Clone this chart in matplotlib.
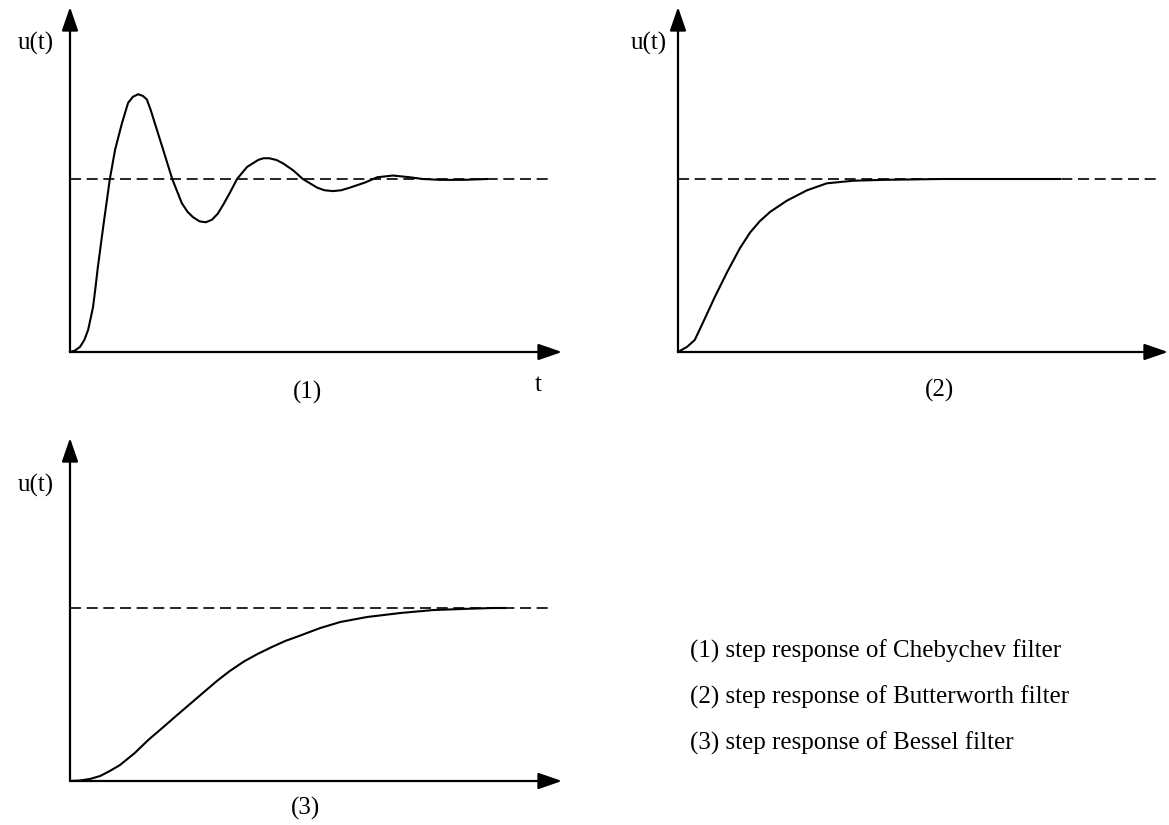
import matplotlib
matplotlib.use("Agg")
import matplotlib.pyplot as plt

plt.rcParams['font.family'] = ['Liberation Serif', 'DejaVu Serif']

# Step responses (t in arbitrary time units, u normalised to the final value 1)
cheby_t = [0, 0.10, 0.21, 0.30, 0.38, 0.48, 0.53, 0.58, 0.69, 0.83, 0.94, 1.08, 1.21,
           1.31, 1.42, 1.52, 1.60, 1.68, 1.77, 1.94, 2.13, 2.33, 2.45, 2.56, 2.70, 2.83,
           2.96, 3.08, 3.20, 3.33, 3.48, 3.69, 3.92, 4.03, 4.15, 4.30, 4.44, 4.65, 4.85,
           5.15, 5.30, 5.48, 5.65, 5.83, 6.15, 6.40, 6.73, 7.08, 7.35, 7.71, 8.19, 8.69]
cheby_u = [0, 0.008, 0.03, 0.07, 0.13, 0.26, 0.37, 0.49, 0.72, 1.00, 1.17, 1.32, 1.44,
           1.475, 1.49, 1.48, 1.46, 1.40, 1.32, 1.17, 1.00, 0.86, 0.81, 0.78, 0.755, 0.75,
           0.765, 0.80, 0.855, 0.92, 1.00, 1.07, 1.11, 1.12, 1.12, 1.11, 1.09, 1.05, 1.00,
           0.95, 0.935, 0.93, 0.935, 0.95, 0.98, 1.01, 1.02, 1.01, 1.00, 0.995, 0.995, 1.00]

butter_t = [0, 0.19, 0.35, 0.52, 0.77, 1.02, 1.29, 1.50, 1.70, 1.92, 2.27, 2.69, 3.10,
            3.65, 4.27, 5.50, 6.71, 7.96]
butter_u = [0, 0.03, 0.07, 0.17, 0.32, 0.46, 0.60, 0.69, 0.755, 0.81, 0.875, 0.935, 0.975,
            0.99, 0.995, 1.00, 1.00, 1.00]

bessel_t = [0, 0.21, 0.42, 0.63, 0.83, 1.04, 1.35, 1.63, 1.92, 2.21, 2.50, 2.79, 3.06,
            3.33, 3.63, 3.92, 4.21, 4.48, 4.77, 5.21, 5.63, 6.19, 6.88, 7.56, 8.13, 8.81,
            9.06]
bessel_u = [0, 0.003, 0.012, 0.029, 0.058, 0.092, 0.162, 0.237, 0.306, 0.376, 0.445,
            0.514, 0.578, 0.636, 0.692, 0.736, 0.775, 0.809, 0.838, 0.884, 0.919, 0.948,
            0.971, 0.988, 0.994, 1.00, 1.00]

final_value = 1.0
dash_end = 10.0

panel_labels = ["(1)", "(2)", "(3)"]
legend_lines = ["(1) step response of Chebychev filter",
                "(2) step response of Butterworth filter",
                "(3) step response of Bessel filter"]

W, H = 1169, 825
fig = plt.figure(figsize=(W / 100, H / 100), dpi=100)
fig.patch.set_facecolor("white")

PX_T = 48.0    # pixels per time unit
PX_U = 173.0   # pixels per unit of u


def make_axes(x0, y_base, x_end, y_top):
    """Axes whose data origin sits at pixel (x0, y_base)."""
    ax = fig.add_axes([x0 / W, 1 - y_base / H, (x_end - x0) / W, (y_base - y_top) / H])
    ax.set_xlim(0, (x_end - x0) / PX_T)
    ax.set_ylim(0, (y_base - y_top) / PX_U)
    ax.axis("off")
    arrow = dict(arrowstyle="-|>,head_length=1.45,head_width=0.5", mutation_scale=10,
                 lw=1.6, color="black", shrinkA=0, shrinkB=0)
    xmax = ax.get_xlim()[1]
    ymax = ax.get_ylim()[1]
    ax.annotate("", xy=(xmax, 0), xytext=(0, 0), arrowprops=arrow, annotation_clip=False)
    ax.annotate("", xy=(0, ymax), xytext=(0, 0), arrowprops=arrow, annotation_clip=False)
    ax.plot([0, dash_end], [final_value, final_value], color="black", lw=1.2,
            dashes=(6.6, 3.4), clip_on=False)
    return ax


ax1 = make_axes(70, 352, 562, 7)
ax1.plot(cheby_t, cheby_u, color="black", lw=1.5, solid_joinstyle="round", clip_on=False)

ax2 = make_axes(678, 352, 1168, 7)
ax2.plot(butter_t, butter_u, color="black", lw=1.5, solid_joinstyle="round", clip_on=False)

ax3 = make_axes(70, 781, 562, 438)
ax3.plot(bessel_t, bessel_u, color="black", lw=1.5, solid_joinstyle="round", clip_on=False)

fs = 18


def ftext(x, y, s, ha="center", va="center"):
    fig.text(x / W, 1 - y / H, s, ha=ha, va=va, fontsize=fs)


ftext(54, 43, "u(t)", ha="right")
ftext(667, 43, "u(t)", ha="right")
ftext(54, 485, "u(t)", ha="right")
ftext(538, 385, "t")
ftext(307, 392, panel_labels[0])
ftext(940, 390, panel_labels[1])
ftext(306, 808, panel_labels[2])

for i, line in enumerate(legend_lines):
    ftext(690, 608 + 46 * i + 43, line, ha="left")

fig.savefig("out.png", dpi=100, facecolor="white")
